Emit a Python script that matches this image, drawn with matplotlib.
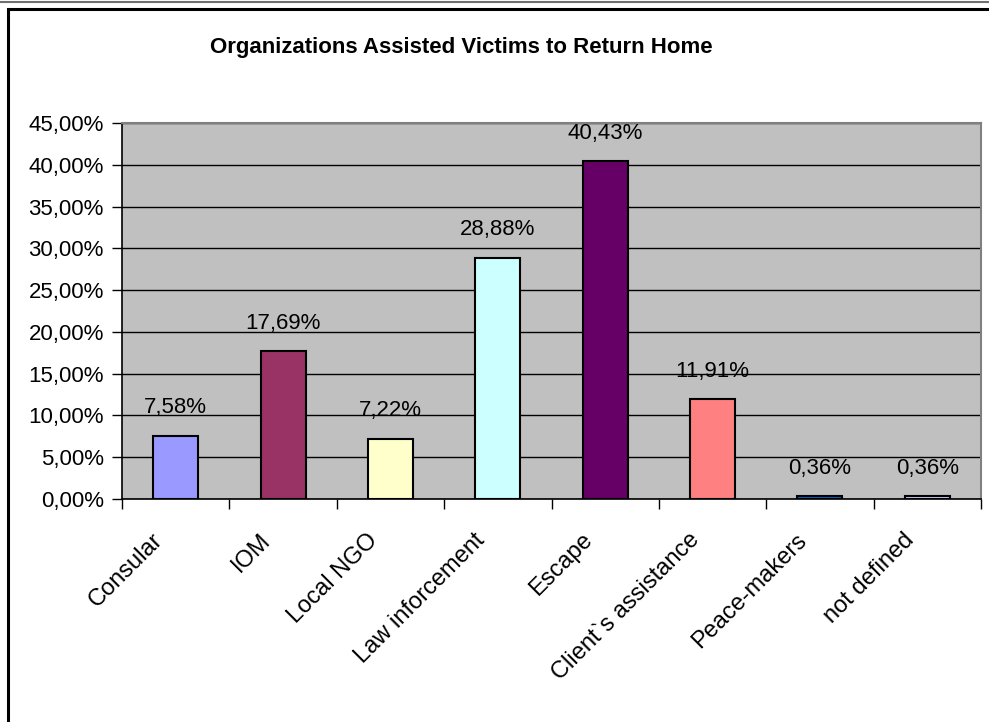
import matplotlib.pyplot as plt
from matplotlib.patches import Rectangle
from matplotlib.lines import Line2D
from matplotlib.ticker import MultipleLocator, FuncFormatter
from matplotlib.transforms import ScaledTranslation

plt.rcParams['font.family'] = ['Liberation Sans', 'DejaVu Sans']

categories = ['Consular', 'IOM', 'Local NGO', 'Law inforcement', 'Escape',
              'Client`s assistance', 'Peace-makers', 'not defined']
shares = [7.58, 17.69, 7.22, 28.88, 40.43, 11.91, 0.36, 0.36]
colors = ['#9999FF', '#993366', '#FFFFCC', '#CCFFFF', '#660066',
          '#FF8080', '#0066CC', '#CCCCFF']

fig = plt.figure(figsize=(9.89, 7.22), dpi=100)
W, H = 989, 722

# outer frame
fig.add_artist(Line2D([0, 1], [1 - 1.5 / H, 1 - 1.5 / H], color='#707070', lw=1.5))
fig.add_artist(Rectangle((7.5 / W, -0.1), 1.2, 1 - 8.5 / H + 0.1, fill=False,
                         edgecolor='black', lw=2.2))

ax = fig.add_axes([122 / W, 1 - 499 / H, (981 - 122) / W, (499 - 123) / H])
ax.set_facecolor('#C0C0C0')

x = range(len(categories))
ax.bar(x, shares, width=0.42, color=colors, edgecolor='black', linewidth=1.5, zorder=3)

for xi, v in zip(x, shares):
    ax.annotate(f'{v:.2f}%'.replace('.', ','), (xi, v), xytext=(0, 20),
                textcoords='offset points', ha='center', va='center', fontsize=16)

ax.set_xlim(-0.5, len(categories) - 0.5)
ax.set_ylim(0, 45)
ax.yaxis.set_major_locator(MultipleLocator(5))
ax.yaxis.set_major_formatter(FuncFormatter(lambda v, p: f'{v:.2f}%'.replace('.', ',')))
ax.grid(axis='y', color='black', lw=1, zorder=1)

ax.set_xticks([i - 0.5 for i in range(len(categories) + 1)])
ax.set_xticklabels([])
ax.tick_params(axis='x', which='major', length=7, width=1, direction='out')
ax.tick_params(axis='y', length=7, width=1, labelsize=16, pad=6)

# rotated category labels, Excel-style
shift = ScaledTranslation(-24 / 100, -30 / 100, fig.dpi_scale_trans)
for xi, name in zip(x, categories):
    ax.text(xi, 0, name, transform=ax.get_xaxis_transform() + shift,
            rotation=45, rotation_mode='anchor', ha='right', va='top', fontsize=17)

for side in ['top', 'right']:
    ax.spines[side].set_color('#808080')
    ax.spines[side].set_linewidth(1.5)
for side in ['left', 'bottom']:
    ax.spines[side].set_linewidth(1.2)

fig.text(461 / W, 1 - 47 / H, 'Organizations Assisted Victims to Return Home',
         ha='center', va='center', fontsize=16, fontweight='bold')

fig.savefig('out.png', dpi=100)
